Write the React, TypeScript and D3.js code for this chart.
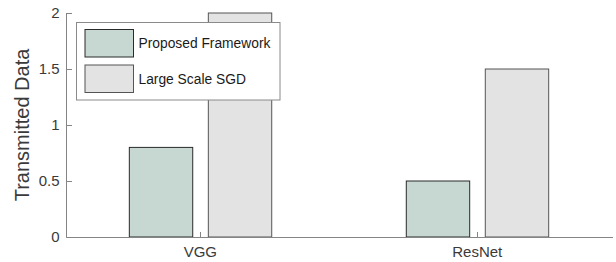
import React from "react";
import * as d3 from "d3";

const categories = ["VGG", "ResNet"];
const seriesNames = ["Proposed Framework", "Large Scale SGD"];
const proposedValues = [0.8, 0.5];
const sgdValues = [2.0, 1.5];
const yTicks = [0, 0.5, 1, 1.5, 2];
const yTickLabels = ["0", "0.5", "1", "1.5", "2"];

const W = 616;
const H = 262;
const fills = ["#c7d7d1", "#e3e3e3"];
const strokes = ["#2a2a2a", "#555555"];
const axisColor = "#858585";
const textColor = "#3a3a3a";
const font = "'Liberation Sans', Arial, Helvetica, sans-serif";

export default function App() {
  const left = 66.5;
  const right = 613;
  const top = 13;
  const bottom = 237.5;
  const x = d3.scaleLinear().domain([0.515, 2.49]).range([left - 0.5, right]);
  const y = d3.scaleLinear().domain([0, 2]).range([237, top]);
  const barW = 63.4;
  const offsets = [-39.3, 39.7];
  const series = [proposedValues, sgdValues];

  return (
    <svg
      width={W}
      height={H}
      style={{ position: "absolute", left: 0, top: 0, background: "#fff" }}
      fontFamily={font}
    >
      {/* bars */}
      {categories.map((c, i) =>
        series.map((vals, s) => {
          const cx = x(i + 1) + offsets[s];
          return (
            <rect
              key={c + s}
              x={cx - barW / 2}
              y={y(vals[i])}
              width={barW}
              height={y(0) - y(vals[i])}
              fill={fills[s]}
              stroke={strokes[s]}
              strokeWidth={1}
            />
          );
        })
      )}
      {/* axes */}
      <line x1={left} x2={left} y1={top} y2={bottom} stroke={axisColor} strokeWidth={1} />
      <line x1={left} x2={right} y1={bottom} y2={bottom} stroke={axisColor} strokeWidth={1} />
      {yTicks.map((t, i) => (
        <g key={t}>
          <line
            x1={left}
            x2={left + 5.5}
            y1={Math.round(y(t)) + 0.5}
            y2={Math.round(y(t)) + 0.5}
            stroke={axisColor}
          />
          <text
            x={left - 7}
            y={y(t)}
            dy="0.36em"
            textAnchor="end"
            fontSize={15}
            fill={textColor}
          >
            {yTickLabels[i]}
          </text>
        </g>
      ))}
      {categories.map((c, i) => (
        <g key={c}>
          <line
            x1={Math.round(x(i + 1)) + 0.5}
            x2={Math.round(x(i + 1)) + 0.5}
            y1={bottom}
            y2={bottom - 5.5}
            stroke={axisColor}
          />
          <text x={x(i + 1)} y={257} textAnchor="middle" fontSize={15} fill={textColor}>
            {c}
          </text>
        </g>
      ))}
      <text
        transform={`translate(29, ${(top + 237) / 2}) rotate(-90)`}
        textAnchor="middle"
        fontSize={20}
        fill={textColor}
      >
        Transmitted Data
      </text>
      {/* legend */}
      <rect x={76.5} y={22.5} width={203.5} height={77.5} fill="#fff" stroke="#8a8a8a" />
      {seriesNames.map((n, s) => {
        const sy = s === 0 ? 29.5 : 65;
        return (
          <g key={n}>
            <rect x={85} y={sy} width={48.5} height={27.5} fill={fills[s]} stroke={strokes[s]} />
            <text x={138.5} y={sy + 14} dy="0.36em" fontSize={13.8} fill="#1a1a1a">
              {n}
            </text>
          </g>
        );
      })}
    </svg>
  );
}
